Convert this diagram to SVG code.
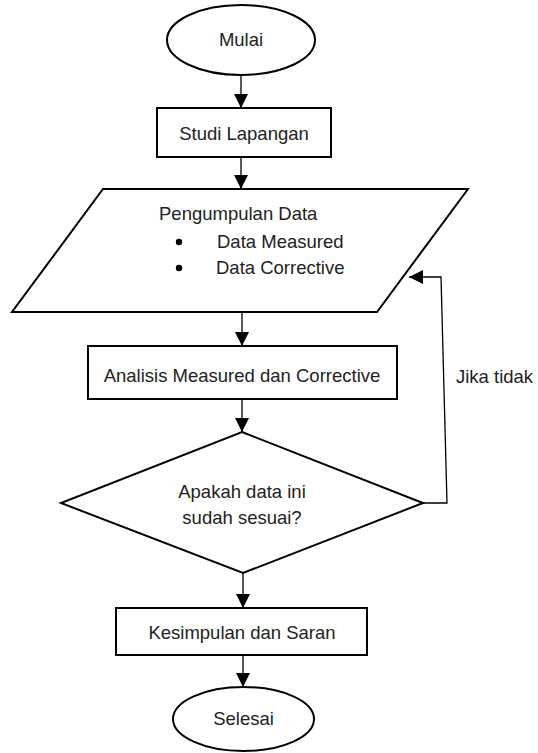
<svg xmlns="http://www.w3.org/2000/svg" width="538" height="753" viewBox="0 0 538 753">
<style>
.shape{fill:#fff;stroke:#000;stroke-width:2}
.conn{fill:none;stroke:#000;stroke-width:1.3}
text{font-family:"Liberation Sans",Arial,sans-serif;font-size:18.5px;fill:#222}
.c{text-anchor:middle}
</style>
<defs>
<marker id="ah" viewBox="0 0 14 14" refX="14" refY="7" markerWidth="14" markerHeight="14" markerUnits="userSpaceOnUse" orient="auto">
<path d="M0,0 L14,7 L0,14 Z" fill="#000"/>
</marker>
</defs>
<rect width="538" height="753" fill="#fff"/>
<g id="connectors">
<line class="conn" x1="241" y1="76" x2="241" y2="108" marker-end="url(#ah)"/>
<line class="conn" x1="241" y1="157" x2="241" y2="189" marker-end="url(#ah)"/>
<line class="conn" x1="242" y1="312" x2="242" y2="346" marker-end="url(#ah)"/>
<line class="conn" x1="242" y1="399" x2="242" y2="432" marker-end="url(#ah)"/>
<line class="conn" x1="243" y1="573" x2="243" y2="608" marker-end="url(#ah)"/>
<line class="conn" x1="243" y1="655" x2="243" y2="687" marker-end="url(#ah)"/>
<polyline class="conn" points="423,503 447,503 441,277 409,277" marker-end="url(#ah)"/>
<text x="456" y="383">Jika tidak</text>
</g>
<g id="mulai">
<ellipse class="shape" cx="241" cy="40" rx="74" ry="35"/>
<text class="c" x="241" y="46">Mulai</text>
</g>
<g id="studi">
<rect class="shape" x="157" y="108" width="174" height="49"/>
<text class="c" x="244" y="140">Studi Lapangan</text>
</g>
<g id="pengumpulan">
<polygon class="shape" points="103,189 468,189 377,312 12,312"/>
<text x="159" y="220">Pengumpulan Data</text>
<circle cx="179" cy="242" r="3.2" fill="#000"/>
<text x="217" y="248">Data Measured</text>
<circle cx="179" cy="268" r="3.2" fill="#000"/>
<text x="216" y="274">Data Corrective</text>
</g>
<g id="analisis">
<rect class="shape" x="88" y="346" width="309" height="53"/>
<text class="c" x="242" y="382">Analisis Measured dan Corrective</text>
</g>
<g id="keputusan">
<polygon class="shape" points="242,432 423,503 243,573 61,503"/>
<text class="c" x="242" y="498">Apakah data ini</text>
<text class="c" x="242" y="524">sudah sesuai?</text>
</g>
<g id="kesimpulan">
<rect class="shape" x="116" y="608" width="251" height="47"/>
<text class="c" x="242" y="639">Kesimpulan dan Saran</text>
</g>
<g id="selesai">
<ellipse class="shape" cx="243.5" cy="719" rx="70.5" ry="32"/>
<text class="c" x="243.5" y="725">Selesai</text>
</g>
</svg>
